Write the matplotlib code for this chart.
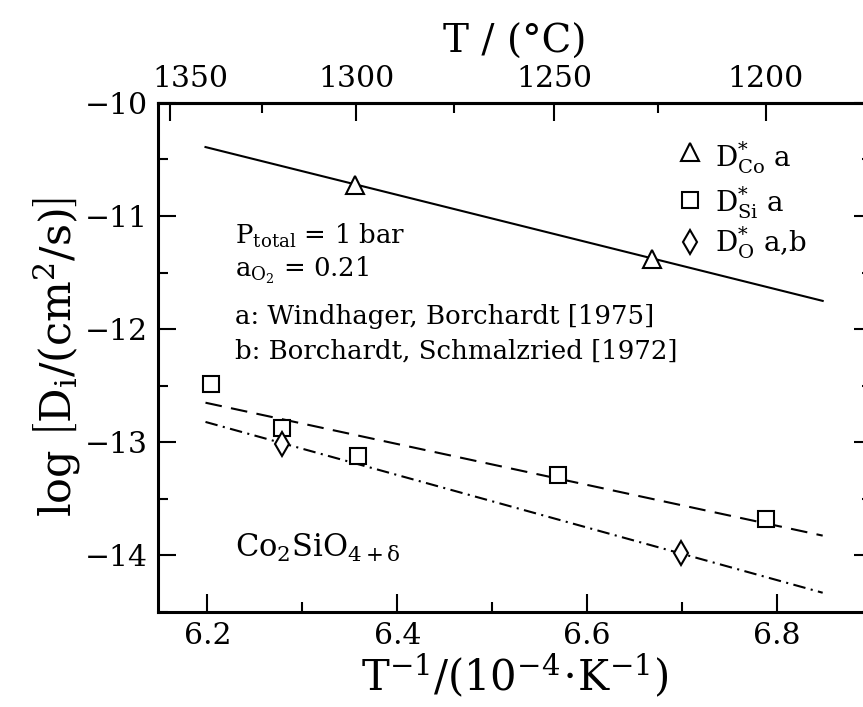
import matplotlib
matplotlib.use("Agg")
import matplotlib.pyplot as plt
import matplotlib.transforms as mtransforms
import numpy as np

plt.rcParams["font.family"] = ["DejaVu Serif"]
plt.rcParams["mathtext.fontset"] = "dejavuserif"
plt.rcParams["axes.formatter.use_mathtext"] = True

# Measured tracer diffusion coefficients (x: 1e4/T in 1/K, y: log D)
co_x = [6.355, 6.668]
co_y = [-10.725, -11.38]
si_x = [6.204, 6.279, 6.359, 6.569, 6.788]
si_y = [-12.485, -12.87, -13.12, -13.29, -13.68]
o_x = [6.279, 6.699]
o_y = [-13.015, -13.98]

# Arrhenius fit lines (end points)
co_fit_x = [6.198, 6.848]
co_fit_y = [-10.39, -11.75]
si_fit_x = [6.198, 6.848]
si_fit_y = [-12.65, -13.825]
o_fit_x = [6.198, 6.848]
o_fit_y = [-12.82, -14.33]

x_ticks = [6.2, 6.4, 6.6, 6.8]
x_tick_labels = ["6.2", "6.4", "6.6", "6.8"]
y_ticks = [-14, -13, -12, -11, -10]
y_tick_labels = ["\u2212" + str(abs(v)) for v in y_ticks]
t_ticks = [1350, 1300, 1250, 1200]
t_minor = [1325, 1275, 1225]

fig = plt.figure(figsize=(8.63, 7.07), dpi=100)
ax = fig.add_axes([0.1831, 0.1344, 0.8274, 0.7200])
ax.set_xlim(6.148, 6.9)
ax.set_ylim(-14.5, -10.0)

# fit lines
ax.plot(co_fit_x, co_fit_y, color="black", lw=1.5, ls="-")
ax.plot(si_fit_x, si_fit_y, color="black", lw=1.5, ls=(0, (8, 4.5)))
ax.plot(o_fit_x, o_fit_y, color="black", lw=1.5, ls=(0, (6, 2.6, 1, 2.6)))

mk = dict(ls="none", mfc="white", mec="black", mew=1.5, zorder=3)
ax.plot(co_x, co_y, marker="^", ms=13, **mk)
ax.plot(si_x, si_y, marker="s", ms=11.5, **mk)
ax.plot(o_x, o_y, marker="d", ms=12.7, **mk)

for s in ax.spines.values():
    s.set_linewidth(2.2)

tick_fs = 21.5
ax.set_xticks(x_ticks, x_tick_labels)
ax.set_xticks(np.arange(6.2, 6.95, 0.1), minor=True)
ax.set_yticks(y_ticks, y_tick_labels)
ax.set_yticks(np.arange(-14.5, -9.9, 0.5), minor=True)
ax.tick_params(which="both", direction="in", right=True, top=False,
               width=1.5, labelsize=tick_fs)
ax.tick_params(which="major", length=13, pad=7)
ax.tick_params(which="minor", length=7)


def inv_to_celsius(x):
    x = np.asarray(x, dtype=float)
    with np.errstate(divide="ignore"):
        return 1e4 / x - 273.15


def celsius_to_inv(t):
    t = np.asarray(t, dtype=float)
    with np.errstate(divide="ignore"):
        return 1e4 / (t + 273.15)


secax = ax.secondary_xaxis("top", functions=(inv_to_celsius, celsius_to_inv))
secax.set_xticks(t_ticks, [str(t) for t in t_ticks])
secax.set_xticks(t_minor, minor=True)
secax.tick_params(which="both", direction="in", width=1.5, labelsize=tick_fs)
secax.tick_params(which="major", length=13, pad=7)
secax.tick_params(which="minor", length=7)
secax.spines["top"].set_linewidth(2.2)
secax.set_xlabel("T / (°C)", fontsize=28, labelpad=9)
first = secax.xaxis.get_majorticklabels()[0]
first.set_transform(first.get_transform() +
                    mtransforms.ScaledTranslation(0.2, 0, fig.dpi_scale_trans))

ax.set_xlabel(r"$\mathrm{T^{-1}/(10^{-4}\!\cdot\! K^{-1})}$", fontsize=30, labelpad=2)
ax.set_ylabel(r"$\log\,\left[\mathrm{D_i/(cm^2/s)}\right]$", fontsize=31, labelpad=2)

# annotations
ta = dict(transform=ax.transAxes, fontsize=18.7, va="baseline", ha="left")
ax.text(0.108, 0.723, r"$\mathrm{P_{total}}$ = 1 bar", **ta)
ax.text(0.108, 0.658, r"$\mathrm{a_{O_2}}$ = 0.21", **ta)
ax.text(0.108, 0.565, "a: Windhager, Borchardt [1975]", **ta)
ax.text(0.108, 0.498, "b: Borchardt, Schmalzried [1972]", **ta)
ax.text(0.108, 0.108, r"$\mathrm{Co_2SiO_{4+\delta}}$", transform=ax.transAxes,
        fontsize=22, va="baseline", ha="left")

# key
key_x, text_x = 0.745, 0.780
ax.plot([key_x], [0.903], marker="^", ms=13, transform=ax.transAxes, clip_on=False, **mk)
ax.plot([key_x], [0.810], marker="s", ms=11.5, transform=ax.transAxes, clip_on=False, **mk)
ax.plot([key_x], [0.7275], marker="d", ms=12.7, transform=ax.transAxes, clip_on=False, **mk)
tl = dict(transform=ax.transAxes, fontsize=20, va="baseline", ha="left")
ax.text(text_x, 0.875, r"$\mathrm{D^{*}_{Co}}$ a", **tl)
ax.text(text_x, 0.787, r"$\mathrm{D^{*}_{Si}}$ a", **tl)
ax.text(text_x, 0.7079, r"$\mathrm{D^{*}_{O}}$ a,b", **tl)

fig.savefig("out.png", dpi=100)
